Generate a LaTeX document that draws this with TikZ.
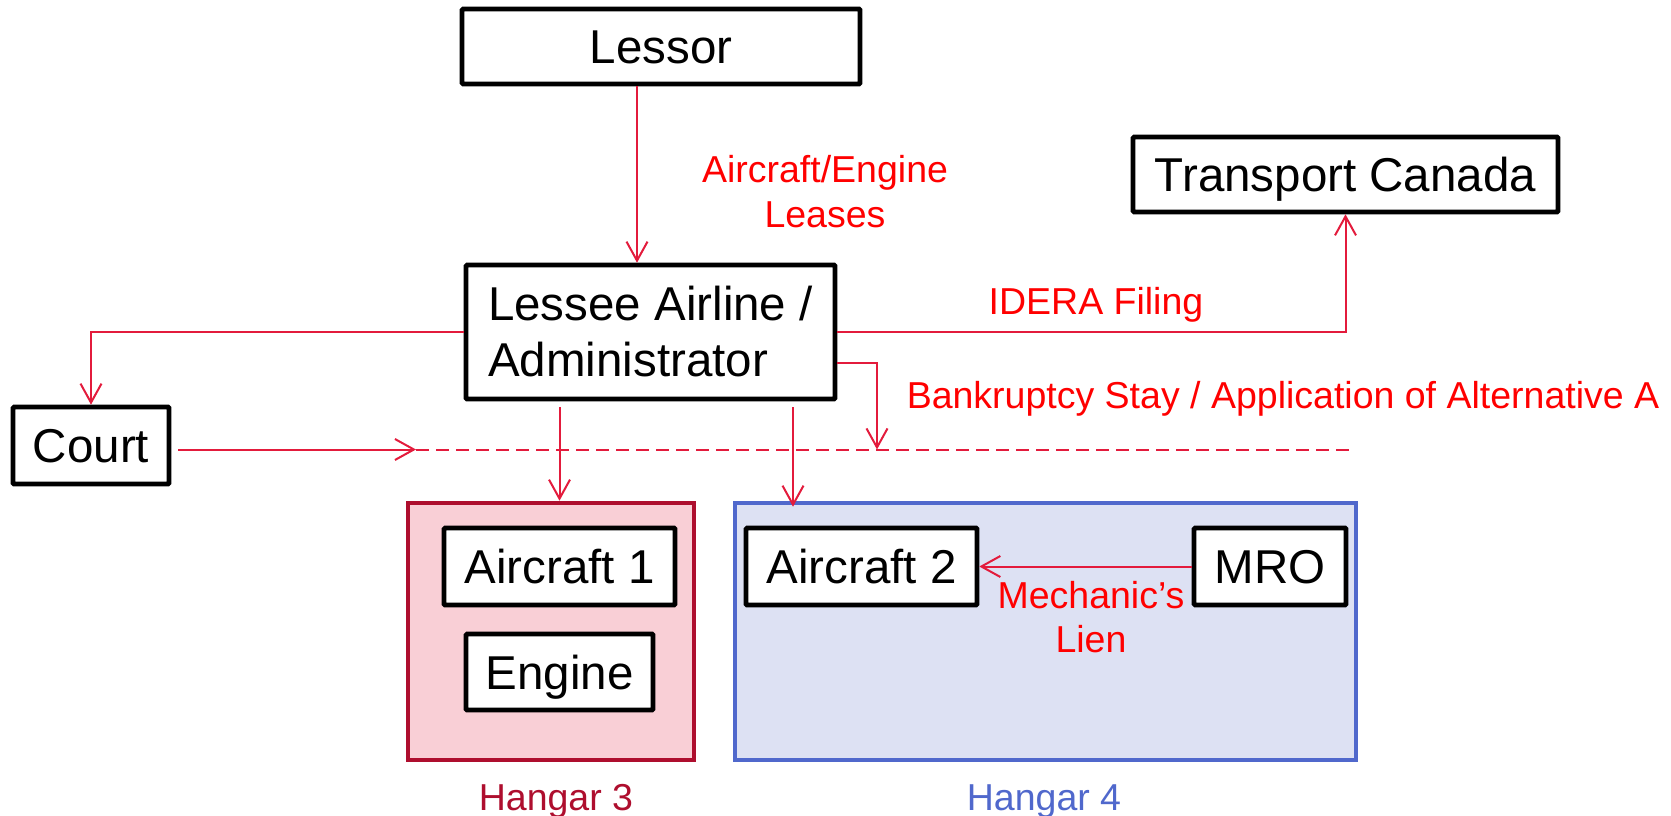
\documentclass[tikz,border=0pt]{standalone}
\usepackage{fontspec}
\setmainfont{Liberation Sans}
\usetikzlibrary{arrows.meta}
\definecolor{connred}{HTML}{E31B3C}
\definecolor{labred}{HTML}{FF0000}
\definecolor{hthreeline}{HTML}{AE0E2E}
\definecolor{hthreefill}{HTML}{F9CFD6}
\definecolor{hfourline}{HTML}{5068CC}
\definecolor{hfourfill}{HTML}{DDE1F3}
\tikzset{
  entity/.style={draw=black, line width=4.6pt, fill=white, rounded corners=1pt,
    inner sep=0pt, font=\fontsize{47.5}{56}\selectfont,
    text height=34pt, text depth=0pt},
  hangar/.style={line width=4.6pt, inner sep=0pt},
  conn/.style={draw=connred, line width=2pt,
    -{Straight Barb[length=19pt,width=21pt,line width=2pt]}},
  dashline/.style={draw=connred, line width=2pt, dash pattern=on 13pt off 7pt},
  redlabel/.style={text=labred, font=\fontsize{37.5}{44}\selectfont, anchor=base, inner sep=0pt},
  hangarlabel/.style={font=\fontsize{37.5}{44}\selectfont, anchor=base, inner sep=0pt}
}
\begin{document}
\begin{tikzpicture}[x=1pt,y=-1pt]
\useasboundingbox (0,0) rectangle (1671,816);
% hangars
\node[hangar, draw=hthreeline, fill=hthreefill, minimum width=286pt, minimum height=257pt] (h3) at (551,631.5) {};
\node[hangar, draw=hfourline, fill=hfourfill, minimum width=621pt, minimum height=257pt] (h4) at (1045.5,631.5) {};
% entity boxes
\node[entity, minimum width=398pt, minimum height=75pt] (lessor) at (661,46.5) {Lessor};
\node[entity, minimum width=425pt, minimum height=75pt] (tc) at (1345.5,174.5) {Transport Canada};
\node[draw=black, line width=4.6pt, fill=white, rounded corners=1pt, inner sep=0pt,
  font=\fontsize{47.5}{56}\selectfont, align=left,
  minimum width=369pt, minimum height=134pt] (lessee) at (650.5,332) {Lessee Airline /\\Administrator};
\node[entity, minimum width=156pt, minimum height=77pt] (court) at (91,445.5) {Court};
\node[entity, minimum width=231pt, minimum height=77pt] (a1) at (559.5,566.5) {Aircraft 1};
\node[entity, minimum width=187pt, minimum height=76pt] (engine) at (559.5,672) {Engine};
\node[entity, minimum width=231pt, minimum height=77pt] (a2) at (861.5,566.5) {Aircraft 2};
\node[entity, minimum width=152pt, minimum height=77pt] (mro) at (1270,566.5) {MRO};
% coordinates
\coordinate (dstart) at (416,449.5);
\coordinate (dend) at (1356,449.5);
\coordinate (stay) at (877,449.5);
% connectors
\draw[conn] ([xshift=-24pt]lessor.south) -- ([xshift=-24pt]lessor.south |- lessee.north);
\draw[conn] (lessee.west) -| (court.north);
\draw[conn] (lessee.east) -| (tc.south);
\draw[conn] ([yshift=-31pt]lessee.east) -| (stay);
\draw[dashline] (dstart) -- (dend);
\draw[conn] ([xshift=7pt]court.east |- dstart) -- (dstart);
\draw[conn] ([yshift=-6pt]lessee.south -| a1.north) -- (h3.north -| a1.north);
\draw[conn] ([xshift=142.5pt,yshift=-6pt]lessee.south) -- ([xshift=142.5pt,yshift=-6pt]lessee.south |- h4.north);
\draw[conn] (mro.west) -- (a2.east);
% labels
\node[redlabel] (l1a) at (825,182) {Aircraft/Engine};
\node[redlabel] (l1b) at (825,227) {Leases};
\node[redlabel] (l2) at (1096,314) {IDERA Filing};
\node[redlabel] (l3) at (1283,408) {Bankruptcy Stay / Application of Alternative A};
\node[redlabel] (l4a) at (1091,608) {Mechanic’s};
\node[redlabel] (l4b) at (1091,652) {Lien};
\node[hangarlabel, text=hthreeline] (hl3) at (556,810) {Hangar 3};
\node[hangarlabel, text=hfourline] (hl4) at (1044,810) {Hangar 4};
\end{tikzpicture}
\end{document}
